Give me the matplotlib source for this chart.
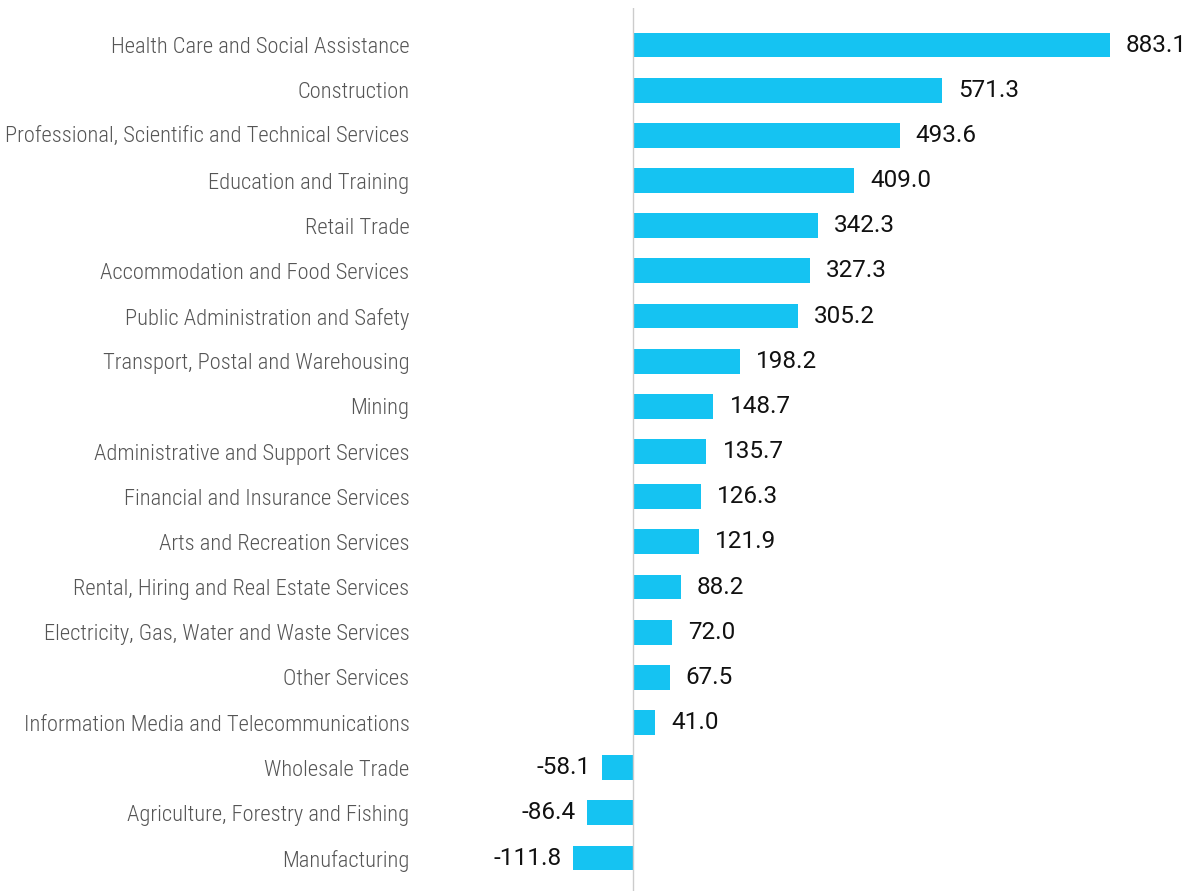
import matplotlib.pyplot as plt

categories = [
    "Health Care and Social Assistance",
    "Construction",
    "Professional, Scientific and Technical Services",
    "Education and Training",
    "Retail Trade",
    "Accommodation and Food Services",
    "Public Administration and Safety",
    "Transport, Postal and Warehousing",
    "Mining",
    "Administrative and Support Services",
    "Financial and Insurance Services",
    "Arts and Recreation Services",
    "Rental, Hiring and Real Estate Services",
    "Electricity, Gas, Water and Waste Services",
    "Other Services",
    "Information Media and Telecommunications",
    "Wholesale Trade",
    "Agriculture, Forestry and Fishing",
    "Manufacturing",
]
values = [883.1, 571.3, 493.6, 409.0, 342.3, 327.3, 305.2, 198.2, 148.7,
          135.7, 126.3, 121.9, 88.2, 72.0, 67.5, 41.0, -58.1, -86.4, -111.8]

label_font = ['Roboto Condensed', 'Liberation Sans Narrow', 'Roboto']
value_font = ['Roboto', 'DejaVu Sans']
bar_color = '#15C3F2'

fig = plt.figure(figsize=(11.9, 8.91), dpi=100)
ax = fig.add_axes([415 / 1190, 0, 775 / 1190, 883 / 891])

pos = list(range(len(categories)))
ax.barh(pos, values, height=0.55, color=bar_color, zorder=2)
ax.axvline(0, color='#cccccc', linewidth=1, zorder=3)

for p, v in zip(pos, values):
    if v >= 0:
        ax.annotate(f"{v:.1f}", (v, p), xytext=(11.5, 0), textcoords='offset points',
                    ha='left', va='center', fontsize=17.5, color='#111111',
                    family=value_font)
    else:
        ax.annotate(f"{v:.1f}", (v, p), xytext=(-8, 0), textcoords='offset points',
                    ha='right', va='center', fontsize=17.5, color='#111111',
                    family=value_font)

ax.set_xlim(-404, 1031)
ax.set_ylim(18.73, -0.82)
ax.set_yticks(pos)
ax.set_yticklabels(categories, family=label_font, fontsize=16.2,
                   fontweight='light', color='#555555')
ax.tick_params(axis='y', length=0, pad=4)
ax.set_xticks([])
for s in ax.spines.values():
    s.set_visible(False)

fig.savefig('out.png', dpi=100)
